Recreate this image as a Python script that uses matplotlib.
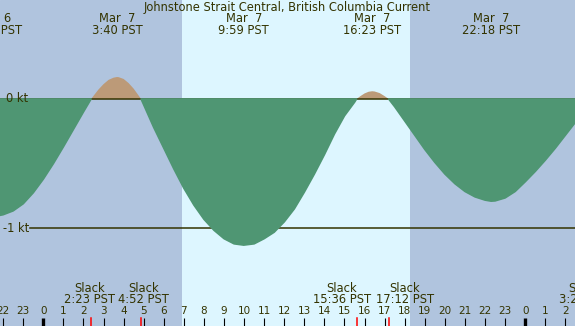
import numpy as np
import matplotlib
matplotlib.use("Agg")
import matplotlib.pyplot as plt
import matplotlib.transforms as mtransforms

# current readings (hours since midnight Mar 7, knots; + flood, - ebb)
hours = [-2.5, -2.0, -1.5, -1.0, -0.5, 0.0, 0.5, 1.0, 1.5, 2.0, 2.38, 2.75, 3.0, 3.25,
         3.5, 3.67, 3.75, 4.0, 4.25, 4.5, 4.87, 5.0, 5.5, 6.0, 6.5, 7.0, 7.5, 8.0, 8.5,
         9.0, 9.5, 9.98, 10.5, 11.0, 11.5, 12.0, 12.5, 13.0, 13.5, 14.0, 14.5, 15.0,
         15.5, 15.6, 15.8, 16.0, 16.2, 16.38, 16.5, 16.75, 17.0, 17.2, 17.5, 18.0, 18.5,
         19.0, 19.5, 20.0, 20.5, 21.0, 21.5, 22.0, 22.3, 22.5, 23.0, 23.5, 24.0, 24.5,
         25.0, 25.5, 26.0, 26.5, 27.0, 27.33]
knots = [-0.91, -0.895, -0.865, -0.81, -0.725, -0.62, -0.50, -0.37, -0.235, -0.10, 0.0,
         0.074, 0.115, 0.148, 0.165, 0.17, 0.169, 0.155, 0.123, 0.08, 0.0, -0.045,
         -0.22, -0.38, -0.54, -0.69, -0.82, -0.93, -1.015, -1.08, -1.12, -1.13, -1.12,
         -1.08, -1.03, -0.95, -0.85, -0.72, -0.58, -0.43, -0.27, -0.13, -0.025, 0.0,
         0.023, 0.043, 0.056, 0.06, 0.058, 0.046, 0.022, 0.0, -0.06, -0.17, -0.28,
         -0.39, -0.49, -0.58, -0.655, -0.715, -0.757, -0.782, -0.79, -0.788, -0.765,
         -0.715, -0.64, -0.56, -0.473, -0.38, -0.28, -0.18, -0.075, 0.0]

# max / min current events
event_hours = [-2.52, 3.67, 9.98, 16.38, 22.3]
event_dates = ["Mar  6", "Mar  7", "Mar  7", "Mar  7", "Mar  7"]
event_times = ["21:29 PST", "3:40 PST", "9:59 PST", "16:23 PST", "22:18 PST"]

# slack water
slack_hours = [2.38, 4.87, 15.6, 17.2, 27.33]
slack_times = ["2:23 PST", "4:52 PST", "15:36 PST", "17:12 PST", "3:20 PST"]

sunrise, sunset = 6.91, 18.27
title = "Johnstone Strait Central, British Columbia Current"

# ---- layout ----
W, H = 575, 326
night = "#B0C4DE"
day = "#DDF6FF"
ebb_c = "#4F9673"
flood_c = "#BC9A78"
txt = "#333300"
px_per_hr = 20.08
x0_px = 43.3
xlo = -x0_px / px_per_hr
xhi = (W - x0_px) / px_per_hr
y0_px, kt_px = 99.0, 129.3
ytop = y0_px / kt_px
ybot = -(H - y0_px) / kt_px

plt.rcParams['font.family'] = ['DejaVu Sans']
fig = plt.figure(figsize=(W / 100, H / 100), dpi=100)
ax = fig.add_axes([0, 0, 1, 1])
ax.set_xlim(xlo, xhi)
ax.set_ylim(ybot, ytop)
ax.axis("off")
ax.add_patch(plt.Rectangle((0, 0), 1, 1, transform=ax.transAxes, color=night, zorder=0))
ax.axvspan(sunrise, sunset, color=day, zorder=0.5, lw=0)

h = np.array(hours)
k = np.array(knots)
ax.fill_between(h, 0, k, where=k >= 0, interpolate=True, color=flood_c, lw=0, zorder=1)
ax.axhline(0, color=txt, lw=1.1, zorder=2)
ax.axhline(-1, xmin=30 / W, color=txt, lw=1.1, zorder=2)
# ebb fill has an edge in its own colour so it hides the zero line
ax.fill_between(h, 0, k, where=k <= 0, interpolate=True, facecolor=ebb_c,
                edgecolor=ebb_c, lw=1.2, zorder=3)

tr = mtransforms.blended_transform_factory(ax.transData, ax.transAxes)


def ypx(y):
    return 1 - y / H


fs = 8.3
fs_hr = 7.5
ax.text(0.5, ypx(7.5), title, transform=ax.transAxes, ha="center", va="center",
        fontsize=fs, color=txt, zorder=5)
for eh, ed, et in zip(event_hours, event_dates, event_times):
    ax.text(eh, ypx(19), ed, transform=tr, ha="center", va="center", fontsize=fs, color=txt, zorder=5)
    ax.text(eh, ypx(31), et, transform=tr, ha="center", va="center", fontsize=fs, color=txt, zorder=5)

# slack labels get nudged apart where they would overlap
nudge = [-0.1, 0.14, -0.73, 0.8, -0.4]
for sh, st, dn in zip(slack_hours, slack_times, nudge):
    ax.text(sh + dn, ypx(288), "Slack", transform=tr, ha="center", va="center", fontsize=fs, color=txt, zorder=5)
    ax.text(sh + dn, ypx(299.5), st, transform=tr, ha="center", va="center", fontsize=fs, color=txt, zorder=5)
    ax.plot([sh, sh], [0, ypx(318)], transform=tr, color="red", lw=1.1, zorder=6)

ax.text(6 / W, ypx(99), "0 kt", transform=ax.transAxes, ha="left", va="center", fontsize=fs, color=txt, zorder=5)
ax.text(3 / W, ypx(228), "-1 kt", transform=ax.transAxes, ha="left", va="center", fontsize=fs, color=txt, zorder=5)

for hr in range(-2, 27):
    ax.text(hr, ypx(311.5), str(hr % 24), transform=tr, ha="center", va="center",
            fontsize=fs_hr, color=txt, zorder=5)
    lw = 2.4 if hr % 24 == 0 else 0.8
    ax.plot([hr, hr], [0, ypx(318)], transform=tr, color="black", lw=lw, zorder=6,
            solid_capstyle="butt")

fig.savefig("out.png", dpi=100)
